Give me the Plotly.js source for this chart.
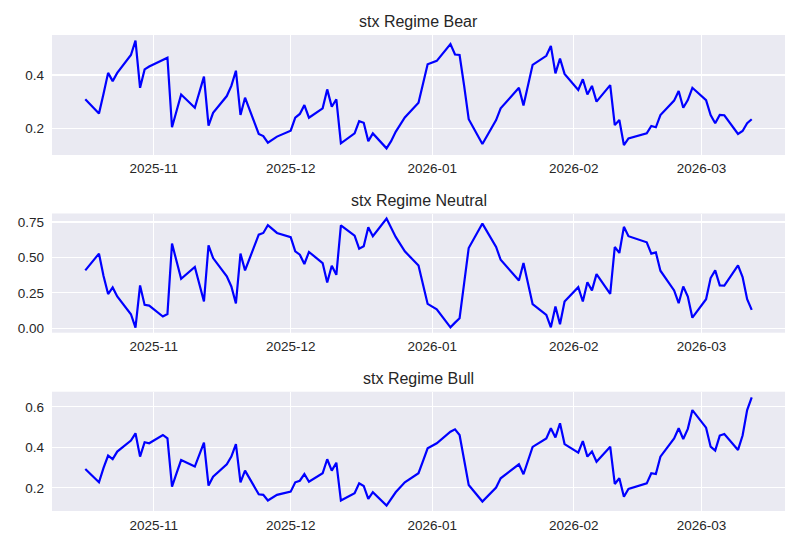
<!DOCTYPE html>
<html>
<head>
<meta charset="utf-8">
<script src="https://cdn.plot.ly/plotly-3.0.1.min.js"></script>
<style>html,body{margin:0;padding:0;background:#fff;}#chart{width:800px;height:550px;}</style>
</head>
<body>
<div id="chart"></div>
<script>
// Trading days (business days, US market holidays excluded)
const dates = [
  '2025-10-17','2025-10-20','2025-10-21','2025-10-22','2025-10-23','2025-10-24','2025-10-27','2025-10-28','2025-10-29','2025-10-30','2025-10-31',
  '2025-11-03','2025-11-04','2025-11-05','2025-11-06','2025-11-07','2025-11-10','2025-11-11','2025-11-12','2025-11-13','2025-11-14',
  '2025-11-17','2025-11-18','2025-11-19','2025-11-20','2025-11-21','2025-11-24','2025-11-25','2025-11-26','2025-11-28',
  '2025-12-01','2025-12-02','2025-12-03','2025-12-04','2025-12-05','2025-12-08','2025-12-09','2025-12-10','2025-12-11','2025-12-12',
  '2025-12-15','2025-12-16','2025-12-17','2025-12-18','2025-12-19','2025-12-22','2025-12-23','2025-12-24','2025-12-26','2025-12-29','2025-12-30','2025-12-31',
  '2026-01-02','2026-01-05','2026-01-06','2026-01-07','2026-01-08','2026-01-09','2026-01-12','2026-01-13','2026-01-14','2026-01-15','2026-01-16',
  '2026-01-20','2026-01-21','2026-01-22','2026-01-23','2026-01-26','2026-01-27','2026-01-28','2026-01-29','2026-01-30',
  '2026-02-02','2026-02-03','2026-02-04','2026-02-05','2026-02-06','2026-02-09','2026-02-10','2026-02-11','2026-02-12','2026-02-13',
  '2026-02-17','2026-02-18','2026-02-19','2026-02-20','2026-02-23','2026-02-24','2026-02-25','2026-02-26','2026-02-27',
  '2026-03-02','2026-03-03','2026-03-04','2026-03-05','2026-03-06','2026-03-09','2026-03-10','2026-03-11','2026-03-12'
];

const bear = [
  0.309,0.256,0.330,0.408,0.377,0.408,0.475,0.529,0.352,0.421,0.432,
  0.458,0.465,0.204,0.269,0.327,0.277,0.336,0.394,0.210,0.258,
  0.321,0.359,0.416,0.250,0.315,0.179,0.171,0.146,0.169,
  0.191,0.240,0.254,0.287,0.240,0.275,0.346,0.281,0.309,0.144,
  0.181,0.227,0.221,0.152,0.181,0.125,0.152,0.187,0.241,0.296,0.369,0.440,
  0.453,0.516,0.477,0.475,0.359,0.234,0.141,0.171,0.204,0.231,0.275,
  0.352,0.286,0.361,0.438,0.472,0.509,0.406,0.462,0.404,
  0.344,0.384,0.327,0.359,0.300,0.362,0.212,0.231,0.137,0.162,
  0.181,0.209,0.204,0.250,0.304,0.340,0.277,0.306,0.352,
  0.306,0.250,0.219,0.250,0.249,0.179,0.190,0.219,0.234
];

const neutral = [
  0.408,0.526,0.368,0.241,0.288,0.224,0.099,0.005,0.302,0.165,0.160,
  0.083,0.101,0.597,0.472,0.349,0.432,0.307,0.189,0.585,0.495,
  0.366,0.295,0.175,0.526,0.408,0.660,0.672,0.726,0.672,
  0.642,0.542,0.519,0.453,0.538,0.460,0.323,0.441,0.377,0.726,
  0.653,0.561,0.578,0.712,0.649,0.774,0.708,0.644,0.542,0.443,0.307,0.172,
  0.134,0.007,0.040,0.071,0.318,0.566,0.738,0.684,0.627,0.573,0.483,
  0.337,0.460,0.314,0.170,0.094,0.007,0.153,0.028,0.189,
  0.290,0.189,0.325,0.267,0.382,0.243,0.573,0.531,0.715,0.649,
  0.606,0.526,0.535,0.406,0.267,0.177,0.295,0.224,0.075,
  0.205,0.354,0.408,0.302,0.300,0.443,0.361,0.205,0.130
];

const bull = [
  0.293,0.227,0.298,0.359,0.342,0.379,0.433,0.469,0.354,0.425,0.420,
  0.461,0.444,0.206,0.272,0.337,0.305,0.364,0.423,0.211,0.255,
  0.316,0.354,0.416,0.227,0.285,0.168,0.165,0.137,0.165,
  0.181,0.227,0.235,0.268,0.230,0.272,0.341,0.285,0.324,0.137,
  0.173,0.222,0.209,0.145,0.178,0.112,0.145,0.178,0.227,0.272,0.333,0.395,
  0.420,0.477,0.489,0.461,0.337,0.214,0.132,0.155,0.178,0.201,0.247,
  0.316,0.267,0.334,0.402,0.444,0.494,0.449,0.519,0.416,
  0.374,0.431,0.354,0.379,0.329,0.403,0.219,0.247,0.156,0.194,
  0.222,0.272,0.268,0.354,0.444,0.494,0.441,0.491,0.584,
  0.497,0.403,0.384,0.458,0.466,0.387,0.458,0.584,0.647
];

const titles = ['stx Regime Bear', 'stx Regime Neutral', 'stx Regime Bull'];
const xTickVals = ['2025-11-01','2025-12-01','2026-01-01','2026-02-01','2026-03-01'];
const xTickText = ['2025-11','2025-12','2026-01','2026-02','2026-03'];
const yTicks1 = [0.2, 0.4];
const yTicks2 = [0.0, 0.25, 0.5, 0.75];
const yTicks2Text = ['0.00','0.25','0.50','0.75'];
const yTicks3 = [0.2, 0.4, 0.6];

const series = [bear, neutral, bull];
const lineColor = '#0000ff';
const font = 'Liberation Sans, Arial, sans-serif';
const textColor = '#262626';

const traces = series.map((vals, i) => ({
  x: dates, y: vals, type: 'scatter', mode: 'lines',
  line: {color: lineColor, width: 2.2},
  xaxis: i === 0 ? 'x' : 'x' + (i + 1),
  yaxis: i === 0 ? 'y' : 'y' + (i + 1),
  showlegend: false, hoverinfo: 'skip'
}));

const domains = [[0.7479, 1.0], [0.3746, 0.625], [0.0, 0.2506]];
const yRanges = [[0.1, 0.55], [-0.031, 0.809], [0.0854, 0.6746]];
const xRange = ['2025-10-09 17:00', '2026-03-19 07:00'];

function xaxis(i) {
  return {
    domain: [0, 1], range: xRange, type: 'date',
    anchor: i === 0 ? 'y' : 'y' + (i + 1),
    tickmode: 'array', tickvals: xTickVals, ticktext: xTickText,
    showgrid: true, gridcolor: '#ffffff', gridwidth: 1.3,
    zeroline: false, showline: false, ticks: '', ticklabelstandoff: 4,
    tickfont: {family: font, size: 13.5, color: textColor},
    fixedrange: true
  };
}
function yaxis(i, tv, tt) {
  const a = {
    domain: domains[i], range: yRanges[i],
    anchor: i === 0 ? 'x' : 'x' + (i + 1),
    tickmode: 'array', tickvals: tv,
    showgrid: true, gridcolor: '#ffffff', gridwidth: 1.3,
    zeroline: false, showline: false, ticks: '', ticklabelstandoff: 7,
    tickfont: {family: font, size: 13.5, color: textColor},
    fixedrange: true
  };
  if (tt) a.ticktext = tt;
  return a;
}

const layout = {
  width: 800, height: 550,
  paper_bgcolor: '#ffffff', plot_bgcolor: '#eaeaf2',
  margin: {l: 52, r: 15, t: 35, b: 39},
  font: {family: font, color: textColor},
  xaxis: xaxis(0), xaxis2: xaxis(1), xaxis3: xaxis(2),
  yaxis: yaxis(0, yTicks1), yaxis2: yaxis(1, yTicks2, yTicks2Text), yaxis3: yaxis(2, yTicks3),
  annotations: titles.map((t, i) => ({
    text: t, xref: 'paper', yref: 'paper', x: 0.5, y: domains[i][1],
    xanchor: 'center', yanchor: 'bottom', yshift: 3, showarrow: false,
    font: {family: font, size: 16, color: textColor}
  }))
};

Plotly.newPlot('chart', traces, layout, {displayModeBar: false, staticPlot: true});
</script>
</body>
</html>
